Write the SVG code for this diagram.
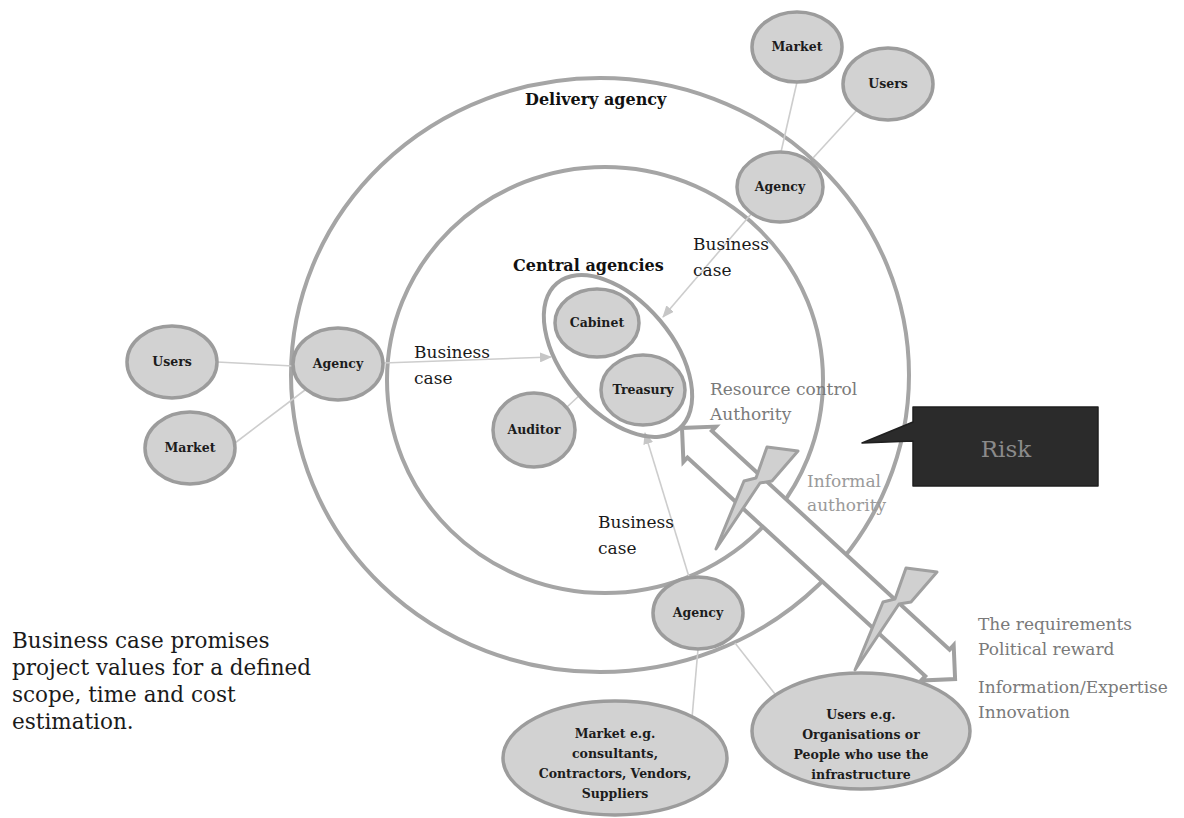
<svg xmlns="http://www.w3.org/2000/svg" xmlns:xlink="http://www.w3.org/1999/xlink" width="1184" height="818" viewBox="0 0 1184 818">
  <defs>
    <style>
      .ring { fill: none; stroke: #a5a5a5; stroke-width: 4; }
      .node ellipse { fill: #d2d2d2; stroke: #9c9c9c; stroke-width: 3.5; }
      .lbl { font-family: "DejaVu Serif", serif; font-size: 12.5px; font-weight: bold; fill: #1c1c1c; text-anchor: middle; }
      .link { fill: none; stroke: #cdcdcd; stroke-width: 1.6; }
      .arrow { marker-end: url(#ah); }
      .txt { font-family: "DejaVu Serif", serif; font-size: 17px; fill: #1a1a1a; }
      .grey { fill: #7a7a7a; }
      .pale { fill: #9a9a9a; }
      .title { font-family: "DejaVu Serif", serif; font-size: 16px; font-weight: bold; fill: #111; }
      .bolt { fill: #d0d0d0; stroke: #a0a0a0; stroke-width: 3; stroke-linejoin: round; }
    </style>
    <marker id="ah" viewBox="0 0 12 10" refX="11" refY="5" markerWidth="12" markerHeight="10" markerUnits="userSpaceOnUse" orient="auto">
      <path d="M0,0 L12,5 L0,10 Z" fill="#c6c6c6"/>
    </marker>
    <path id="boltShape" d="M767,447 L798,451 L772,481 L760,483 L716,549 L744,481 L756,478 Z"/>
  </defs>

  <rect width="1184" height="818" fill="#ffffff"/>

  <!-- concentric rings -->
  <g id="rings">
    <ellipse class="ring" cx="600" cy="375" rx="309" ry="297"/>
    <ellipse class="ring" cx="605" cy="380" rx="218" ry="213"/>
  </g>

  <text class="title" x="525" y="105">Delivery agency</text>
  <text class="title" x="513" y="271">Central agencies</text>

  <!-- connectors -->
  <g id="connectors">
    <line class="link" x1="217" y1="362" x2="293" y2="366"/>
    <line class="link" x1="235" y1="443" x2="305" y2="390"/>
    <line class="link arrow" x1="383" y1="363" x2="551" y2="357"/>
    <line class="link" x1="797" y1="82" x2="781" y2="152"/>
    <line class="link" x1="857" y1="110" x2="813" y2="158"/>
    <line class="link arrow" x1="752" y1="213" x2="663" y2="317"/>
    <line class="link" x1="567" y1="407" x2="581" y2="394"/>
    <line class="link arrow" x1="689" y1="577" x2="645" y2="433"/>
    <line class="link" x1="698" y1="649" x2="692" y2="718"/>
    <line class="link" x1="735" y1="643" x2="775" y2="694"/>
  </g>

  <!-- central agencies grouping -->
  <g id="central-agencies">
    <ellipse cx="618" cy="356" rx="95" ry="55" transform="rotate(50 618 356)" fill="none" stroke="#a0a0a0" stroke-width="4"/>
  </g>

  <g id="cabinet" class="node"><ellipse cx="597" cy="323" rx="42" ry="34"/><text class="lbl" x="597" y="327">Cabinet</text></g>
  <g id="treasury" class="node"><ellipse cx="643" cy="390" rx="42" ry="35"/><text class="lbl" x="643" y="394">Treasury</text></g>
  <g id="auditor" class="node"><ellipse cx="534" cy="430" rx="41" ry="37"/><text class="lbl" x="534" y="434">Auditor</text></g>

  <g id="agency-left" class="node"><ellipse cx="338" cy="364" rx="45" ry="36"/><text class="lbl" x="338" y="368">Agency</text></g>
  <g id="users-left" class="node"><ellipse cx="172" cy="362" rx="45" ry="36"/><text class="lbl" x="172" y="366">Users</text></g>
  <g id="market-left" class="node"><ellipse cx="190" cy="448" rx="45" ry="36"/><text class="lbl" x="190" y="452">Market</text></g>

  <g id="agency-top" class="node"><ellipse cx="780" cy="187" rx="43" ry="35"/><text class="lbl" x="780" y="191">Agency</text></g>
  <g id="market-top" class="node"><ellipse cx="797" cy="47" rx="45" ry="35"/><text class="lbl" x="797" y="51">Market</text></g>
  <g id="users-top" class="node"><ellipse cx="888" cy="84" rx="45" ry="36"/><text class="lbl" x="888" y="88">Users</text></g>

  <g id="agency-bottom" class="node"><ellipse cx="698" cy="613" rx="45" ry="36"/><text class="lbl" x="698" y="617">Agency</text></g>
  <g id="market-eg" class="node">
    <ellipse cx="615" cy="758" rx="112" ry="57"/>
    <text class="lbl" x="615" y="738">Market e.g.</text>
    <text class="lbl" x="615" y="758">consultants,</text>
    <text class="lbl" x="615" y="778">Contractors, Vendors,</text>
    <text class="lbl" x="615" y="798">Suppliers</text>
  </g>
  <g id="users-eg" class="node">
    <ellipse cx="861" cy="731" rx="109" ry="58"/>
    <text class="lbl" x="861" y="719">Users e.g.</text>
    <text class="lbl" x="861" y="739">Organisations or</text>
    <text class="lbl" x="861" y="759">People who use the</text>
    <text class="lbl" x="861" y="779">infrastructure</text>
  </g>

  <!-- double-headed tension arrow with lightning strikes -->
  <g id="tension-arrow">
    <polygon transform="translate(682 428) rotate(42.6)" points="0,0 24,24 24,18 347,18 347,24 371,0 347,-24 347,-18 24,-18 24,-24" fill="#ffffff" stroke="#a0a0a0" stroke-width="4" stroke-linejoin="miter"/>
    <use xlink:href="#boltShape" class="bolt"/>
    <use xlink:href="#boltShape" class="bolt" transform="translate(139 121)"/>
  </g>

  <!-- risk callout -->
  <g id="risk">
    <path d="M913,407 H1098 V486 H913 V441 L862,443 L913,422 Z" fill="#2b2b2b" stroke="#1f1f1f" stroke-width="1.5" stroke-linejoin="round"/>
    <text x="1006" y="457" font-family="DejaVu Serif, serif" font-size="23" fill="#8a8a8a" text-anchor="middle">Risk</text>
  </g>

  <!-- labels -->
  <g id="labels">
    <text class="txt" x="414" y="358">Business</text>
    <text class="txt" x="414" y="384">case</text>
    <text class="txt" x="693" y="250">Business</text>
    <text class="txt" x="693" y="276">case</text>
    <text class="txt" x="598" y="528">Business</text>
    <text class="txt" x="598" y="554">case</text>
    <text class="txt grey" x="710" y="395">Resource control</text>
    <text class="txt grey" x="710" y="420">Authority</text>
    <text class="txt pale" x="807" y="487">Informal</text>
    <text class="txt pale" x="807" y="511">authority</text>
    <text class="txt grey" x="978" y="630">The requirements</text>
    <text class="txt grey" x="978" y="655">Political reward</text>
    <text class="txt grey" x="978" y="693">Information/Expertise</text>
    <text class="txt grey" x="978" y="718">Innovation</text>
  </g>

  <g id="note" font-family="DejaVu Serif, serif" font-size="21.5" fill="#1a1a1a">
    <text x="12" y="648">Business case promises</text>
    <text x="12" y="675">project values for a defined</text>
    <text x="12" y="702">scope, time and cost</text>
    <text x="12" y="729">estimation.</text>
  </g>
</svg>
